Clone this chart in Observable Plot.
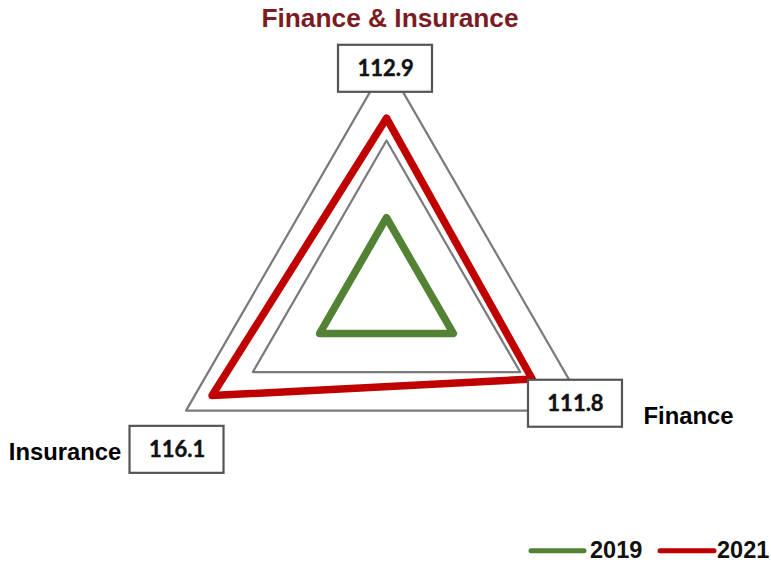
<!DOCTYPE html>
<html>
<head>
<meta charset="utf-8">
<script src="https://cdn.jsdelivr.net/npm/d3@7"></script>
<script src="https://cdn.jsdelivr.net/npm/@observablehq/plot@0.6"></script>
<style>
  body { margin: 0; background: #fff; }
  #wrap { position: relative; width: 771px; height: 562px; overflow: hidden; font-family: "Liberation Sans", Arial, sans-serif; }
  #title { position: absolute; left: 0; top: 0; width: 771px; height: 40px; }
  #chart { position: absolute; left: 0; top: 40px; }
  #legend { position: absolute; left: 0; top: 530px; }
</style>
</head>
<body>
<div id="wrap">
  <div id="title"></div>
  <div id="chart"></div>
  <div id="legend"></div>
</div>
<script>
// ---- data ----
const axes = ["Finance & Insurance", "Finance", "Insurance"];
const series = ["2019", "2021"];
const values2019 = [100, 100, 100];
const values2021 = [112.9, 111.8, 116.1];
const gridLevels = [100, 110, 120];
const scaleMin = 90;
const scaleMax = 120;
const titleText = "Finance & Insurance";

// ---- layout (pixels) ----
const W = 771, H = 490;
const R = 231.5, CX = 386, CY = 254.4;
const colors = ["#548235", "#c00000"];
const boxOffsets = [[-1, 5.4], [-11.5, -6.9], [-9, 39.2]];   // box centre relative to outer axis end
const boxW = 94, boxH = 47;
const catLabelOffsets = [null, [56.5, 13.2], [-64.8, 49.2]]; // category label anchor relative to outer axis end
const catLabelAnchor = [null, "start", "end"];

const n = axes.length;
const polar = (i, v) => {
  const r = (v - scaleMin) / (scaleMax - scaleMin);
  const a = i * 2 * Math.PI / n;
  return {x: r * Math.sin(a), y: r * Math.cos(a)};
};

const gridData = gridLevels.flatMap(l => axes.map((a, i) => ({level: l, axis: a, ...polar(i, l)})));
const seriesValues = [values2019, values2021];
const seriesData = series.flatMap((s, k) => seriesValues[k].map((v, i) => ({series: s, axis: axes[i], value: v, ...polar(i, v)})));

const labelData = values2021.map((v, i) => {
  const end = polar(i, scaleMax);
  const cx = end.x + boxOffsets[i][0] / R;
  const cy = end.y - boxOffsets[i][1] / R;
  return {value: v, cx, cy,
    x1: cx - boxW / 2 / R, x2: cx + boxW / 2 / R,
    y1: cy - boxH / 2 / R, y2: cy + boxH / 2 / R};
});

const catData = axes.map((a, i) => {
  if (!catLabelOffsets[i]) return null;
  const end = polar(i, scaleMax);
  return {name: a, anchor: catLabelAnchor[i],
    x: end.x + catLabelOffsets[i][0] / R, y: end.y - catLabelOffsets[i][1] / R};
}).filter(d => d);

const chart = Plot.plot({
  width: W, height: H, margin: 0,
  style: {background: "white", overflow: "visible"},
  x: {domain: [-CX / R, (W - CX) / R], axis: null},
  y: {domain: [-(H - CY) / R, CY / R], axis: null},
  color: {domain: series, range: colors},
  marks: [
    Plot.line(gridData, {x: "x", y: "y", z: "level", curve: "linear-closed", stroke: "#7a7a7a", strokeWidth: 2.2}),
    Plot.line(seriesData, {x: "x", y: "y", z: "series", stroke: "series", curve: "linear-closed", strokeWidth: 7.5, strokeLinejoin: "round"}),
    Plot.rect(labelData, {x1: "x1", x2: "x2", y1: "y1", y2: "y2", fill: "white", stroke: "#555", strokeWidth: 2.2}),
    Plot.text(labelData, {x: "cx", y: "cy", text: d => d.value.toFixed(1), fontSize: 22, fontWeight: "bold", fontFamily: "Lato", fill: "#111", stroke: "#111", strokeWidth: 0.4, lineAnchor: "middle", textAnchor: "middle"}),
    Plot.text(catData.filter(d => d.anchor === "start"), {x: "x", y: "y", text: "name", textAnchor: "start", lineAnchor: "bottom", fontSize: 23.8, fontWeight: "bold", fontFamily: "Liberation Sans", fill: "#000"}),
    Plot.text(catData.filter(d => d.anchor === "end"), {x: "x", y: "y", text: "name", textAnchor: "end", lineAnchor: "bottom", fontSize: 23.8, fontWeight: "bold", fontFamily: "Liberation Sans", fill: "#000"})
  ]
});
document.getElementById("chart").appendChild(chart);

// ---- title ----
const tsvg = d3.select("#title").append("svg").attr("width", 771).attr("height", 40);
tsvg.append("text").attr("x", 390).attr("y", 27.3).attr("text-anchor", "middle")
  .attr("font-family", "Liberation Sans, Arial, sans-serif").attr("font-weight", "bold")
  .attr("font-size", 26.3).attr("fill", "#7b1c23").text(titleText);

// ---- legend ----
const lsvg = d3.select("#legend").append("svg").attr("width", 771).attr("height", 32);
const legendItems = [{x1: 531, x2: 584, tx: 590}, {x1: 660, x2: 714, tx: 717}];
series.forEach((s, k) => {
  const it = legendItems[k];
  lsvg.append("line").attr("x1", it.x1).attr("x2", it.x2).attr("y1", 20.7).attr("y2", 20.7)
    .attr("stroke", colors[k]).attr("stroke-width", 5).attr("stroke-linecap", "round");
  lsvg.append("text").attr("x", it.tx).attr("y", 27.7)
    .attr("font-family", "Liberation Sans, Arial, sans-serif").attr("font-weight", "bold")
    .attr("font-size", 23.5).attr("fill", "#111").text(s);
});
</script>
</body>
</html>
